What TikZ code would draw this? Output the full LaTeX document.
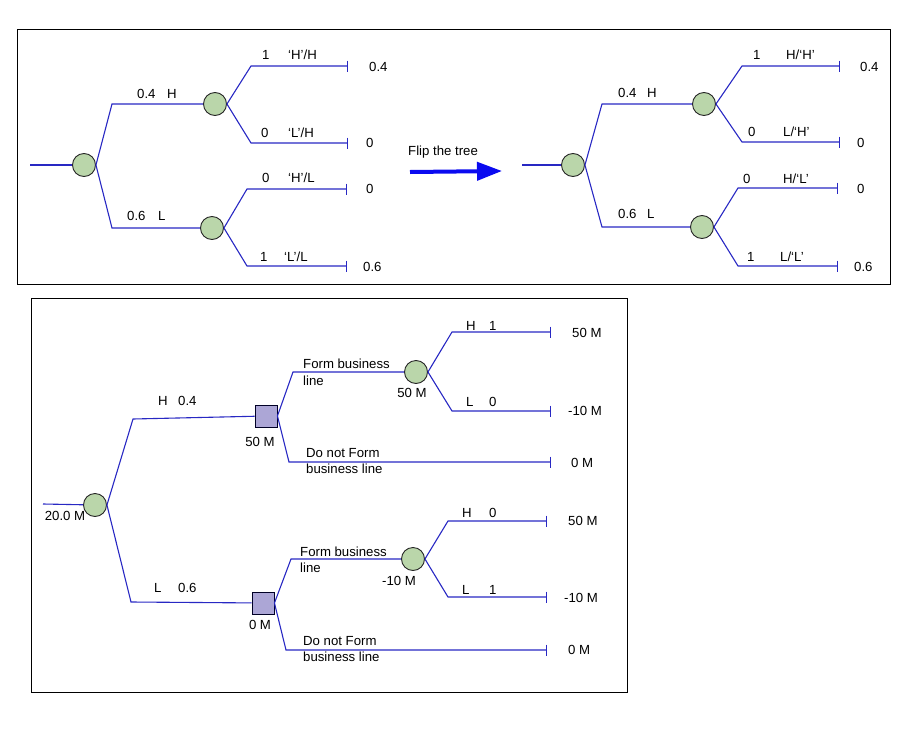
\documentclass[tikz,border=0pt]{standalone}
\usepackage{fontspec}
\setmainfont{Liberation Sans}
\usetikzlibrary{arrows.meta}
\definecolor{cgreen}{RGB}{186,214,170}
\definecolor{cpurple}{RGB}{172,166,214}
\definecolor{lblue}{RGB}{40,40,195}
\definecolor{abl}{RGB}{10,10,240}
\tikzset{
  chance/.style={circle, draw=black!85, fill=cgreen, minimum size=23pt, inner sep=0pt, line width=0.9pt},
  dec/.style={rectangle, draw=black!85!blue, fill=cpurple, minimum size=22pt, inner sep=0pt, line width=0.9pt},
  br/.style={draw=lblue, line width=1.1pt},
  term/.style={br, -{Bar[width=11pt, line width=1.1pt]}},
  lbl/.style={anchor=west, inner sep=0pt, font=\fontsize{13.2}{16}\selectfont},
  lblc/.style={anchor=center, inner sep=0pt, font=\fontsize{13.2}{16}\selectfont},
  lbl2/.style={anchor=west, inner sep=0pt, align=left, font=\fontsize{13.2}{16.5}\selectfont},
  frame/.style={draw=black, line width=1pt}
}
\begin{document}
\begin{tikzpicture}[x=1pt,y=-1pt]
\useasboundingbox (0,0) rectangle (922,734);
% frames
\draw[frame] (17,29) rectangle (890,284);
\draw[frame] (31,298) rectangle (627,692);

% ---------- top-left tree ----------
\coordinate (ain) at (30,165);
\node[chance] (a0) at (84,165) {};
\coordinate (au) at (112,104);
\coordinate (al) at (112,228);
\node[chance] (a1) at (215,104) {};
\node[chance] (a2) at (212,228) {};
\coordinate (a1u) at (251,66);  \coordinate (a1ue) at (348,66);
\coordinate (a1l) at (251,143); \coordinate (a1le) at (348,143);
\coordinate (a2u) at (247,189); \coordinate (a2ue) at (347,189);
\coordinate (a2l) at (247,266); \coordinate (a2le) at (347,266);
\draw[br] (ain) -- (a0);
\draw[br] (a0.east) -- (au) -- (a1);
\draw[br] (a0.east) -- (al) -- (a2);
\draw[term] (a1.east) -- (a1u) -- (a1ue);
\draw[term] (a1.east) -- (a1l) -- (a1le);
\draw[term] (a2.east) -- (a2u) -- (a2ue);
\draw[term] (a2.east) -- (a2l) -- (a2le);
\node[lbl] (ta1) at (137,94) {0.4};
\node[lbl] (ta2) at (167,94) {H};
\node[lbl] (ta3) at (127,216) {0.6};
\node[lbl] (ta4) at (158,216) {L};
\node[lbl] (ta5) at (262,55) {1};
\node[lbl] (ta6) at (288,55) {‘H’/H};
\node[lbl] (ta7) at (261,133) {0};
\node[lbl] (ta8) at (288,133) {‘L’/H};
\node[lbl] (ta9) at (262,178) {0};
\node[lbl] (ta10) at (288,178) {‘H’/L};
\node[lbl] (ta11) at (260,257) {1};
\node[lbl] (ta12) at (284,257) {‘L’/L};
\node[lbl] (va1) at (369,67) {0.4};
\node[lbl] (va2) at (366,143) {0};
\node[lbl] (va3) at (366,189) {0};
\node[lbl] (va4) at (363,267) {0.6};

% ---------- flip arrow ----------
\node[lbl] (flip) at (408,152) {Flip the tree};
\coordinate (fa) at (410,172);
\coordinate (fb) at (502,171);
\draw[draw=abl, line width=4pt, -{Triangle[length=25pt, width=18pt]}] (fa) -- (fb);

% ---------- top-right tree ----------
\coordinate (bin) at (522,165);
\node[chance] (b0) at (573,165) {};
\coordinate (bu) at (602,104);
\coordinate (bl) at (602,227);
\node[chance] (b1) at (704,104) {};
\node[chance] (b2) at (702,227) {};
\coordinate (b1u) at (742,66);  \coordinate (b1ue) at (840,66);
\coordinate (b1l) at (742,142); \coordinate (b1le) at (840,142);
\coordinate (b2u) at (738,188); \coordinate (b2ue) at (838,188);
\coordinate (b2l) at (738,266); \coordinate (b2le) at (838,266);
\draw[br] (bin) -- (b0);
\draw[br] (b0.east) -- (bu) -- (b1);
\draw[br] (b0.east) -- (bl) -- (b2);
\draw[term] (b1.east) -- (b1u) -- (b1ue);
\draw[term] (b1.east) -- (b1l) -- (b1le);
\draw[term] (b2.east) -- (b2u) -- (b2ue);
\draw[term] (b2.east) -- (b2l) -- (b2le);
\node[lbl] (tb1) at (618,93) {0.4};
\node[lbl] (tb2) at (647,93) {H};
\node[lbl] (tb3) at (618,214) {0.6};
\node[lbl] (tb4) at (647,214) {L};
\node[lbl] (tb5) at (753,55) {1};
\node[lbl] (tb6) at (786,55) {H/‘H’};
\node[lbl] (tb7) at (748,132) {0};
\node[lbl] (tb8) at (783,132) {L/‘H’};
\node[lbl] (tb9) at (743,179) {0};
\node[lbl] (tb10) at (783,179) {H/‘L’};
\node[lbl] (tb11) at (747,257) {1};
\node[lbl] (tb12) at (780,257) {L/‘L’};
\node[lbl] (vb1) at (860,67) {0.4};
\node[lbl] (vb2) at (857,143) {0};
\node[lbl] (vb3) at (857,189) {0};
\node[lbl] (vb4) at (854,267) {0.6};

% ---------- bottom tree ----------
\coordinate (cin) at (43,504);
\node[chance] (c0) at (95,505) {};
\coordinate (cu) at (133,419);
\coordinate (cl) at (131,602);
\node[dec] (s1) at (266,416) {};
\node[dec] (s2) at (263,603) {};
\draw[br] (cin) -- (c0);
\draw[br] (c0.east) -- (cu) -- (s1);
\draw[br] (c0.east) -- (cl) -- (s2);
% upper decision
\coordinate (s1f) at (293,372);
\node[chance] (c1) at (416,372) {};
\coordinate (s1n) at (289,462); \coordinate (s1ne) at (551,462);
\coordinate (c1u) at (452,332); \coordinate (c1ue) at (551,332);
\coordinate (c1l) at (452,411); \coordinate (c1le) at (551,411);
\draw[br] (s1.east) -- (s1f) -- (c1);
\draw[term] (s1.east) -- (s1n) -- (s1ne);
\draw[term] (c1.east) -- (c1u) -- (c1ue);
\draw[term] (c1.east) -- (c1l) -- (c1le);
% lower decision
\coordinate (s2f) at (291,559);
\node[chance] (c2) at (413,559) {};
\coordinate (s2n) at (286,650); \coordinate (s2ne) at (547,650);
\coordinate (c2u) at (448,521); \coordinate (c2ue) at (547,521);
\coordinate (c2l) at (448,597); \coordinate (c2le) at (547,597);
\draw[br] (s2.east) -- (s2f) -- (c2);
\draw[term] (s2.east) -- (s2n) -- (s2ne);
\draw[term] (c2.east) -- (c2u) -- (c2ue);
\draw[term] (c2.east) -- (c2l) -- (c2le);
% labels
\node[lblc] (l0) at (65,516) {20.0 M};
\node[lbl] (l1) at (158,401) {H};
\node[lbl] (l2) at (178,401) {0.4};
\node[lbl] (l3) at (154,588) {L};
\node[lbl] (l4) at (178,588) {0.6};
\node[lblc] (l5) at (260,442) {50 M};
\node[lblc] (l6) at (260,625) {0 M};
\node[lbl2] (l7) at (303,372.5) {Form business\\line};
\node[lblc] (l8) at (412,393) {50 M};
\node[lbl] (l9) at (466,326) {H};
\node[lbl] (l10) at (489,326) {1};
\node[lbl] (l11) at (466,402) {L};
\node[lbl] (l12) at (489,402) {0};
\node[lbl] (l13) at (572,333) {50 M};
\node[lbl] (l14) at (568,411) {-10 M};
\node[lbl2] (l15) at (306,461) {Do not Form\\business line};
\node[lbl] (l16) at (571,463) {0 M};
\node[lbl2] (l17) at (300,560) {Form business\\line};
\node[lblc] (l18) at (399,581) {-10 M};
\node[lbl] (l19) at (462,513) {H};
\node[lbl] (l20) at (489,513) {0};
\node[lbl] (l21) at (462,590) {L};
\node[lbl] (l22) at (489,590) {1};
\node[lbl] (l23) at (568,521) {50 M};
\node[lbl] (l24) at (564,598) {-10 M};
\node[lbl2] (l25) at (303,649) {Do not Form\\business line};
\node[lbl] (l26) at (568,650) {0 M};
\end{tikzpicture}
\end{document}
